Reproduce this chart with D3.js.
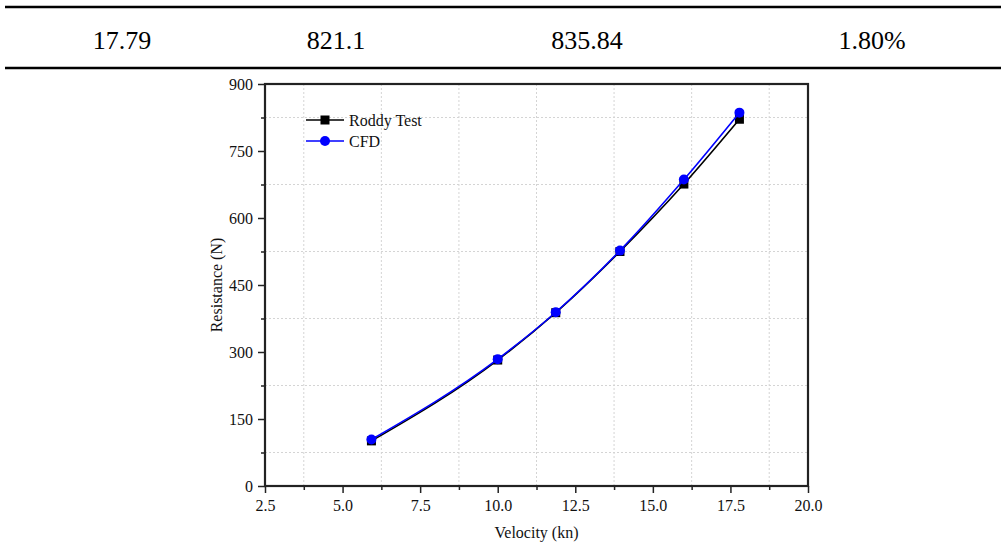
<!DOCTYPE html>
<html>
<head>
<meta charset="utf-8">
<script src="https://cdn.jsdelivr.net/npm/d3@7"></script>
<style>
  html, body { margin: 0; padding: 0; background: #fff; }
  svg { display: block; }
  svg text { font-family: "Liberation Serif", "Times New Roman", serif !important; }
</style>
</head>
<body>
<svg id="chart" width="1001" height="544"></svg>
<script>
// Table row above the figure
const tableCells = ["17.79", "821.1", "835.84", "1.80%"];
const tableCellX = [122, 336, 587, 872];

// Measured speeds (kn) and resistance (N)
const velocity = [5.93, 10.0, 11.87, 13.94, 16.0, 17.79];
const roddyTest = [101, 282, 388, 525, 676, 821.1];
const cfd = [104, 284, 389, 527, 686, 835.84];

// Axis ticks
const xMajorTicks = [2.5, 5.0, 7.5, 10.0, 12.5, 15.0, 17.5, 20.0];
const xMinorTicks = [3.75, 6.25, 8.75, 11.25, 13.75, 16.25, 18.75];
const yMajorTicks = [0, 150, 300, 450, 600, 750, 900];
const yMinorTicks = [75, 225, 375, 525, 675, 825];

const svg = d3.select("#chart");

// ---- table ----
svg.append("line").attr("x1", 5).attr("x2", 1001).attr("y1", 7).attr("y2", 7)
  .attr("stroke", "#000").attr("stroke-width", 2.5);
svg.append("line").attr("x1", 5).attr("x2", 1001).attr("y1", 68).attr("y2", 68)
  .attr("stroke", "#000").attr("stroke-width", 2.5);
svg.selectAll("text.cell").data(tableCells).enter().append("text")
  .attr("class", "cell")
  .attr("x", (d, i) => tableCellX[i]).attr("y", 49)
  .attr("text-anchor", "middle")
  .attr("font-size", 26).attr("fill", "#000")
  .text(d => d);

// ---- chart ----
const plotL = 265, plotR = 808, plotT = 84, plotB = 486;
const x = d3.scaleLinear().domain([2.5, 20]).range([plotL, plotR]);
const y = d3.scaleLinear().domain([0, 900]).range([plotB, plotT]);

// dotted grid on the minor tick positions
const grid = svg.append("g");
grid.selectAll("line.gx").data(xMinorTicks).enter().append("line")
  .attr("x1", d => x(d)).attr("x2", d => x(d)).attr("y1", plotT).attr("y2", plotB)
  .attr("stroke", "#d4d4d4").attr("stroke-width", 1).attr("stroke-dasharray", "2,2");
grid.selectAll("line.gy").data(yMinorTicks).enter().append("line")
  .attr("x1", plotL).attr("x2", plotR).attr("y1", d => y(d)).attr("y2", d => y(d))
  .attr("stroke", "#d4d4d4").attr("stroke-width", 1).attr("stroke-dasharray", "2,2");

// axes
const axisColor = "#222";
const xAxis = svg.append("g").attr("transform", `translate(0,${plotB})`)
  .call(d3.axisBottom(x).tickValues(xMajorTicks).tickSize(7).tickSizeOuter(0)
    .tickFormat(d3.format(".1f")));
const xMinor = svg.append("g").attr("transform", `translate(0,${plotB})`)
  .call(d3.axisBottom(x).tickValues(xMinorTicks).tickSize(4).tickSizeOuter(0).tickFormat(""));
const yAxis = svg.append("g").attr("transform", `translate(${plotL},0)`)
  .call(d3.axisLeft(y).tickValues(yMajorTicks).tickSize(7).tickSizeOuter(0)
    .tickFormat(d3.format("d")));
const yMinor = svg.append("g").attr("transform", `translate(${plotL},0)`)
  .call(d3.axisLeft(y).tickValues(yMinorTicks).tickSize(4).tickSizeOuter(0).tickFormat(""));

[xAxis, xMinor, yAxis, yMinor].forEach(g => {
  g.attr("font-family", null);
  g.select(".domain").remove();
  g.selectAll("line").attr("stroke", axisColor).attr("stroke-width", 1.5);
  g.selectAll("text").attr("font-size", 16).attr("fill", "#111");
});
xAxis.selectAll("text").attr("dy", "0.71em").attr("y", 14);
yAxis.selectAll("text").attr("x", -12);

// frame
svg.append("rect").attr("x", plotL).attr("y", plotT)
  .attr("width", plotR - plotL).attr("height", plotB - plotT)
  .attr("fill", "none").attr("stroke", axisColor).attr("stroke-width", 2.2);

// axis titles
svg.append("text").attr("x", (plotL + plotR) / 2).attr("y", 538)
  .attr("text-anchor", "middle").attr("font-size", 16).attr("fill", "#111")
  .text("Velocity (kn)");
svg.append("text")
  .attr("transform", `translate(222,${(plotT + plotB) / 2}) rotate(-90)`)
  .attr("text-anchor", "middle").attr("font-size", 16).attr("fill", "#111")
  .text("Resistance (N)");

// series, joined by a smooth curve through the points
const line = d3.line().x(d => x(d[0])).y(d => y(d[1])).curve(d3.curveMonotoneX);
const roddyPts = velocity.map((v, i) => [v, roddyTest[i]]);
const cfdPts = velocity.map((v, i) => [v, cfd[i]]);

svg.append("path").datum(roddyPts).attr("d", line)
  .attr("fill", "none").attr("stroke", "#000").attr("stroke-width", 1.6);
svg.selectAll("rect.roddy").data(roddyPts).enter().append("rect")
  .attr("class", "roddy")
  .attr("x", d => x(d[0]) - 4.5).attr("y", d => y(d[1]) - 4.5)
  .attr("width", 9).attr("height", 9).attr("fill", "#000");

svg.append("path").datum(cfdPts).attr("d", line)
  .attr("fill", "none").attr("stroke", "#0000ff").attr("stroke-width", 1.6);
svg.selectAll("circle.cfd").data(cfdPts).enter().append("circle")
  .attr("class", "cfd")
  .attr("cx", d => x(d[0])).attr("cy", d => y(d[1]))
  .attr("r", 5).attr("fill", "#0000ff");

// legend
const legend = svg.append("g");
const legendItems = [
  { name: "Roddy Test", color: "#000", shape: "square", y: 120 },
  { name: "CFD", color: "#0000ff", shape: "circle", y: 141 }
];
legendItems.forEach(item => {
  legend.append("line").attr("x1", 306).attr("x2", 344).attr("y1", item.y).attr("y2", item.y)
    .attr("stroke", item.color).attr("stroke-width", 1.6);
  if (item.shape === "square") {
    legend.append("rect").attr("x", 325 - 4.5).attr("y", item.y - 4.5)
      .attr("width", 9).attr("height", 9).attr("fill", item.color);
  } else {
    legend.append("circle").attr("cx", 325).attr("cy", item.y).attr("r", 5).attr("fill", item.color);
  }
  legend.append("text").attr("x", 349).attr("y", item.y + 5.5)
    .attr("font-size", 16).attr("fill", "#111").text(item.name);
});
</script>
</body>
</html>
